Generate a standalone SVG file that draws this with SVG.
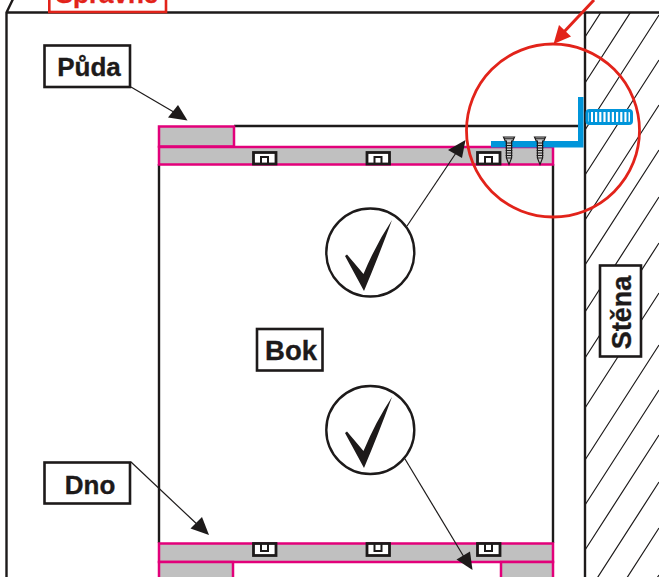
<svg xmlns="http://www.w3.org/2000/svg" xmlns:xlink="http://www.w3.org/1999/xlink" width="659" height="577" viewBox="0 0 659 577">
<style>
.k{fill:none;stroke:#1d1a1a;stroke-width:2.400}
.box{fill:#fff;stroke:#1d1a1a;stroke-width:2.600}
.t{font-family:"Liberation Sans",Arial,sans-serif;font-weight:700;fill:#1d1a1a;stroke:#1d1a1a;stroke-width:.35;text-anchor:middle}
.pk{fill:#c0c0c0;stroke:#e2007a;stroke-width:2.500}
.thin{fill:none;stroke:#1d1a1a;stroke-width:1.200}
.ah{fill:#1d1a1a}
.clip{fill:#fff;stroke:#1d1a1a;stroke-width:2.800}
.in{fill:none;stroke:#1d1a1a;stroke-width:2}
.ck{fill:#1d1a1a}
.circ{fill:#fff;stroke:#1d1a1a;stroke-width:2.400}
.bl{fill:#0095da}
</style>
<defs>
<clipPath id="wallclip"><rect x="585" y="12" width="74" height="565"/></clipPath>
<g id="screw">
<path d="M-5.500 0H5.500L3.800 4H2.600V21L0 27.500L-2.600 21V4H-3.800Z" fill="#c8c8c8" stroke="#1d1a1a" stroke-width="1.200"/>
<path d="M-5 1.800H5M-3.300 6H3.300M-3.300 8.500H3.300M-3.300 11H3.300M-3.300 13.500H3.300M-3.300 16H3.300M-3.300 18.500H3.300M-3 21H3" stroke="#1d1a1a" stroke-width="1.100" fill="none"/>
</g>
</defs>
<g id="wall">
<path clip-path="url(#wallclip)" class="thin" d="M585 37l74-115M585 83l74-115M585 130l74-115M585 175l74-115M585 220l74-115M585 265l74-115M585 312l74-115M585 358l74-115M585 408l74-115M585 460l74-115M585 505l74-115M585 550l74-115M585 597l74-115M585 643l74-115M585 690l74-115"/>
</g>
<g id="frame">
<path class="k" d="M14-3L6.500 12.500V577M6.500 12.500H659M585 12.500V577"/>
</g>
<g id="spravne">
<rect x="49.300" y="-20" width="116.700" height="32" fill="#fff" stroke="#e2231a" stroke-width="2.600"/>
<text class="t" x="107" y="2.500" font-size="26" style="fill:#e2231a;stroke:#e2231a">Správně</text>
</g>
<g id="carcass">
<path class="k" d="M159 164V543M553 164V543M234 126H579"/>
<rect class="pk" x="159" y="126.500" width="75" height="20"/>
<rect class="pk" x="159" y="147" width="394" height="17.500"/>
<rect class="pk" x="159" y="543.500" width="394" height="18.500"/>
<path class="pk" d="M159 577V562H233V577"/>
<path class="pk" d="M553 577V562H501V577"/>
</g>
<g id="clips">
<g id="clips-top">
<rect class="clip" x="253.500" y="152.500" width="22.500" height="11.500"/><path class="in" d="M261 164V157H268V164"/>
<rect class="clip" x="367" y="152.500" width="22.500" height="11.500"/><path class="in" d="M374.500 164V157H381.500V164"/>
<rect class="clip" x="477.500" y="152.500" width="22.500" height="11.500"/><path class="in" d="M485 164V157H492V164"/>
</g>
<g id="clips-bottom">
<rect class="clip" x="253.500" y="543.500" width="22.500" height="12"/><path class="in" d="M261 544V551H268V544"/>
<rect class="clip" x="367" y="543.500" width="22.500" height="12"/><path class="in" d="M374.500 544V551H381.500V544"/>
<rect class="clip" x="477.500" y="543.500" width="22.500" height="12"/><path class="in" d="M485 544V551H492V544"/>
</g>
</g>
<g id="bracket">
<path class="bl" d="M578 97H583.500V147.500H491V141H578Z"/>
<rect x="587" y="110.500" width="44.500" height="13" rx="2.500" fill="#fff" stroke="#0095da" stroke-width="3"/>
<path d="M590 111V123M594 111V123M598.200 111V123M602.400 111V123M606.600 111V123M610.800 111V123M615 111V123M619.200 111V123M623.400 111V123M627.500 111V123" stroke="#0095da" stroke-width="2" fill="none"/>
<use xlink:href="#screw" href="#screw" x="509" y="137"/>
<use xlink:href="#screw" href="#screw" x="540" y="137"/>
</g>
<g id="connectors">
<path class="thin" d="M131 87L178 114.500"/>
<path class="ah" d="M187.500 120.500L168 117.500L178 105Z"/>
<path class="thin" d="M131 462L200 527"/>
<path class="ah" d="M209 535L190.500 528.500L202 517Z"/>
<path class="thin" d="M407 226L458 150"/>
<path class="ah" d="M465.500 140L448 150L462 158Z"/>
<path class="thin" d="M405 459L464 557"/>
<path class="ah" d="M472.500 570L456.500 559.500L470 551.500Z"/>
<path d="M594 0L562 34" fill="none" stroke="#e2231a" stroke-width="3"/>
<path d="M553.500 44L559 25L571 36.500Z" fill="#e2231a"/>
</g>
<g id="check-top">
<circle class="circ" cx="370.300" cy="252.500" r="44"/>
<path class="ck" d="M345 256L347 254.500L363.500 274Q376 244 392 220Q378 258 364 291Z"/>
</g>
<g id="check-bottom">
<circle class="circ" cx="370.300" cy="430" r="44"/>
<path class="ck" d="M345 433L347 431.500L363.500 451Q376 421 392 397Q378 435 364 468Z"/>
</g>
<g id="puda">
<rect class="box" x="44.500" y="45.500" width="85.500" height="41.500"/>
<text class="t" x="89" y="76" font-size="26">Půda</text>
</g>
<g id="dno">
<rect class="box" x="44.500" y="462.500" width="85.500" height="41"/>
<text class="t" x="90" y="494" font-size="26">Dno</text>
</g>
<g id="bok">
<rect class="box" x="257" y="329" width="65.500" height="41.500"/>
<text class="t" x="291" y="359.500" font-size="27.500">Bok</text>
</g>
<g id="stena">
<rect class="box" x="600" y="265.500" width="41" height="91"/>
<text class="t" transform="translate(631 312.500) rotate(-90)" font-size="27">Stěna</text>
</g>
<g id="detail">
<circle cx="553" cy="130.500" r="86.500" fill="none" stroke="#e2231a" stroke-width="2.800"/>
</g>
</svg>
